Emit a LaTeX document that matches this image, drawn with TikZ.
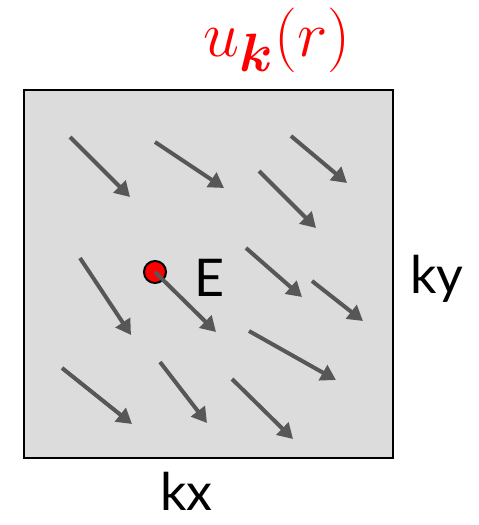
\documentclass[tikz,border=0pt]{standalone}
\usepackage{amsmath}
\usepackage{graphicx}
\usepackage{fontspec}
\setmainfont{Lato}
\usetikzlibrary{arrows.meta}
\definecolor{boxfill}{HTML}{DCDCDC}
\definecolor{arrgray}{HTML}{575757}
\tikzset{
  vec/.style={draw=arrgray, line width=4pt, -{Triangle[length=15pt,width=17pt]}},
  lbl/.style={inner sep=0pt, anchor=base west, font=\fontsize{52}{62}\selectfont},
}
\begin{document}
\begin{tikzpicture}[x=1pt,y=-1pt]
\useasboundingbox (0,0) rectangle (479,525);
\node[draw=black, line width=2pt, fill=boxfill, minimum width=369pt, minimum height=368pt, inner sep=0pt, anchor=north west] (box) at (23,89) {};
% arrow endpoints
\coordinate (a1s) at (70,137);  \coordinate (a1e) at (130,197);
\coordinate (a2s) at (155,142); \coordinate (a2e) at (224,188);
\coordinate (a3s) at (291,136); \coordinate (a3e) at (347,183);
\coordinate (a4s) at (259,171); \coordinate (a4e) at (316,228);
\coordinate (a5s) at (80,258);  \coordinate (a5e) at (131,335);
\coordinate (a7s) at (246,248); \coordinate (a7e) at (302,297);
\coordinate (a8s) at (312,281); \coordinate (a8e) at (363,321);
\coordinate (a9s) at (249,331); \coordinate (a9e) at (336,380);
\coordinate (a10s) at (62,368); \coordinate (a10e) at (132,424);
\coordinate (a11s) at (160,362); \coordinate (a11e) at (207,423);
\coordinate (a12s) at (232,379); \coordinate (a12e) at (293,439);
\coordinate (a6e) at (216,332);
\foreach \i in {1,2,3,4,5,7,8,9,10,11,12}
  \draw[vec] (a\i s) -- (a\i e);
\node[circle, draw=black, line width=2pt, fill=red, minimum size=22pt, inner sep=0pt] (dot) at (155,272) {};
\draw[vec] (dot.center) -- (a6e);
\node[lbl] (E) at (194,296) {E};
\node[lbl] (ky) at (410,293) {ky};
\node[lbl] (kx) at (160,510) {kx};
\node[inner sep=0pt, anchor=base west, text=red, font=\fontsize{24.88}{30}\selectfont] (u) at (203,56) {\scalebox{2.6}{$u_{\boldsymbol{k}}(r)$}};
\end{tikzpicture}
\end{document}
